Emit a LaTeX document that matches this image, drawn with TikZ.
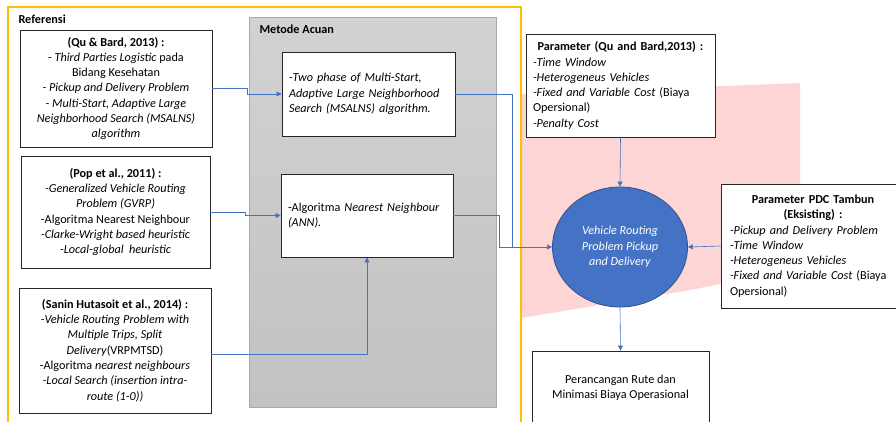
\documentclass[tikz,border=0pt]{standalone}
\usepackage{fontspec}
\setmainfont{Carlito}
\usetikzlibrary{arrows.meta,shapes.geometric}
\definecolor{connblue}{HTML}{4472C4}
\definecolor{circfill}{HTML}{4472C4}
\definecolor{circline}{HTML}{2F528F}
\definecolor{frameorange}{HTML}{FFC000}
\definecolor{wmpink}{HTML}{FDD5D5}
\definecolor{graytop}{HTML}{D2D2D2}
\definecolor{graybot}{HTML}{C2C2C2}
\definecolor{grayline}{HTML}{A9A9A9}
\begin{document}
\begin{tikzpicture}[x=1pt,y=-1pt,
  font=\fontsize{12.2}{15.3}\selectfont,
  txtbox/.style={draw=black!85, line width=0.9pt, fill=white, inner sep=0pt, align=center},
  leftbox/.style={draw=black!85, line width=0.9pt, fill=white, inner sep=0pt, align=left},
  conn/.style={draw=connblue, line width=0.6pt, -{Triangle[length=5pt,width=5pt]}},
  connline/.style={draw=connblue, line width=0.6pt}
]
\useasboundingbox (0,0) rectangle (896,421);
\fill[white] (0,0) rectangle (896,421);
% watermark
\fill[wmpink] (521,94) -- (800,83) -- (800,268) -- (690,290) -- (521,318) -- cycle;
% orange frame
\draw[frameorange, line width=1.1pt] (8,425) -- (8,7) -- (521,7) -- (521,425);
\node[anchor=west, font=\fontsize{12.2}{15.3}\selectfont\bfseries] (reflabel) at (15,19) {Referensi};
% gray panel
\node[draw=grayline, line width=0.8pt, top color=graytop, bottom color=graybot,
      minimum width=247pt, minimum height=390pt, inner sep=0pt] (metode) at (372.5,212) {};
\node[anchor=west, font=\fontsize{12.2}{15.3}\selectfont\bfseries] (metlabel) at (256,29) {Metode Acuan};

% reference boxes
\node[txtbox, minimum width=192pt, minimum height=117pt] (box1) at (116,88.5) {%
\textbf{(Qu \& Bard, 2013) :}\\
- \textit{Third Parties Logistic} pada\\
Bidang Kesehatan\\
\textit{- Pickup and Delivery Problem}\\
\textit{- Multi-Start, Adaptive Large}\\
\textit{Neighborhood Search (MSALNS)}\\
\textit{algorithm}};

\node[txtbox, minimum width=189pt, minimum height=112pt] (box2) at (115.5,212) {%
\textbf{(Pop et al., 2011) :}\\
\textit{-Generalized Vehicle Routing}\\
\textit{Problem (GVRP)}\\
-Algoritma Nearest Neighbour\\
\textit{-Clarke-Wright based heuristic}\\
\textit{-Local-global\ \ heuristic}};

\node[txtbox, minimum width=192pt, minimum height=125pt] (box3) at (115,350.5) {%
\textbf{(Sanin Hutasoit et al., 2014) :}\\
\textit{-Vehicle Routing Problem with}\\
\textit{Multiple Trips, Split}\\
\textit{Delivery}(VRPMTSD)\\
-Algoritma \textit{nearest neighbours}\\
\textit{-Local Search (insertion intra-}\\
\textit{route (1-0))}};

% method boxes
\node[leftbox, minimum width=173pt, minimum height=84pt, text width=159pt] (m1) at (368.5,94) {%
\textit{-Two phase of Multi-Start,}\\
\textit{Adaptive Large Neighborhood}\\
\textit{Search (MSALNS) algorithm.}};

\node[leftbox, minimum width=172pt, minimum height=83pt, text width=158pt] (m2) at (367,215.5) {%
-Algoritma \textit{Nearest Neighbour}\\
\textit{(ANN).}};

% parameter boxes
\node[leftbox, minimum width=189pt, minimum height=103pt, text width=175pt] (pqu) at (620.5,85.5) {%
\makebox[175pt][c]{\textbf{Parameter (Qu and Bard,2013) :}}\\
\textit{-Time Window}\\
\textit{-Heterogeneus Vehicles}\\
\textit{-Fixed and Variable Cost} (Biaya\\
Opersional)\\
\textit{-Penalty Cost}};

\node[leftbox, minimum width=184pt, minimum height=124pt, text width=166pt] (pdc) at (813,246) {%
\makebox[166pt][c]{\textbf{Parameter PDC Tambun}}\\
\makebox[166pt][c]{\textbf{(Eksisting) :}}\\
\textit{-Pickup and Delivery Problem}\\
\textit{-Time Window}\\
\textit{-Heterogeneus Vehicles}\\
\textit{-Fixed and Variable Cost} (Biaya\\
Opersional)};

% central ellipse
\node[ellipse, draw=circline, line width=0.8pt, fill=circfill, text=white, align=center,
      minimum width=135pt, minimum height=120pt, inner sep=0pt] (vrp) at (620,247) {%
\textit{Vehicle Routing}\\
\textit{Problem Pickup}\\
\textit{and Delivery}};

% result box
\node[txtbox, minimum width=177pt, minimum height=74pt] (res) at (620.5,388) {%
Perancangan Rute dan\\
Minimasi Biaya Operasional};

% connectors
\coordinate (j1) at (512,247);
\coordinate (j2) at (499,247);
\draw[conn] (box1.east) -- ++(35,0) |- (m1.west);
\draw[conn] (box2.east) -- ++(35,0) |- (m2.west);
\draw[conn] ([yshift=-4pt]box3.east) -| (m2.south);
\draw[connline] (m1.east) -| (j1);
\draw[connline] (m2.east) -| (j2);
\draw[conn] (j2) -- (vrp.west);
\draw[conn] (pqu.south) -- (vrp.north);
\draw[conn] (pdc.west) -- (vrp.east);
\draw[conn] (vrp.south) -- (res.north);
\end{tikzpicture}
\end{document}
